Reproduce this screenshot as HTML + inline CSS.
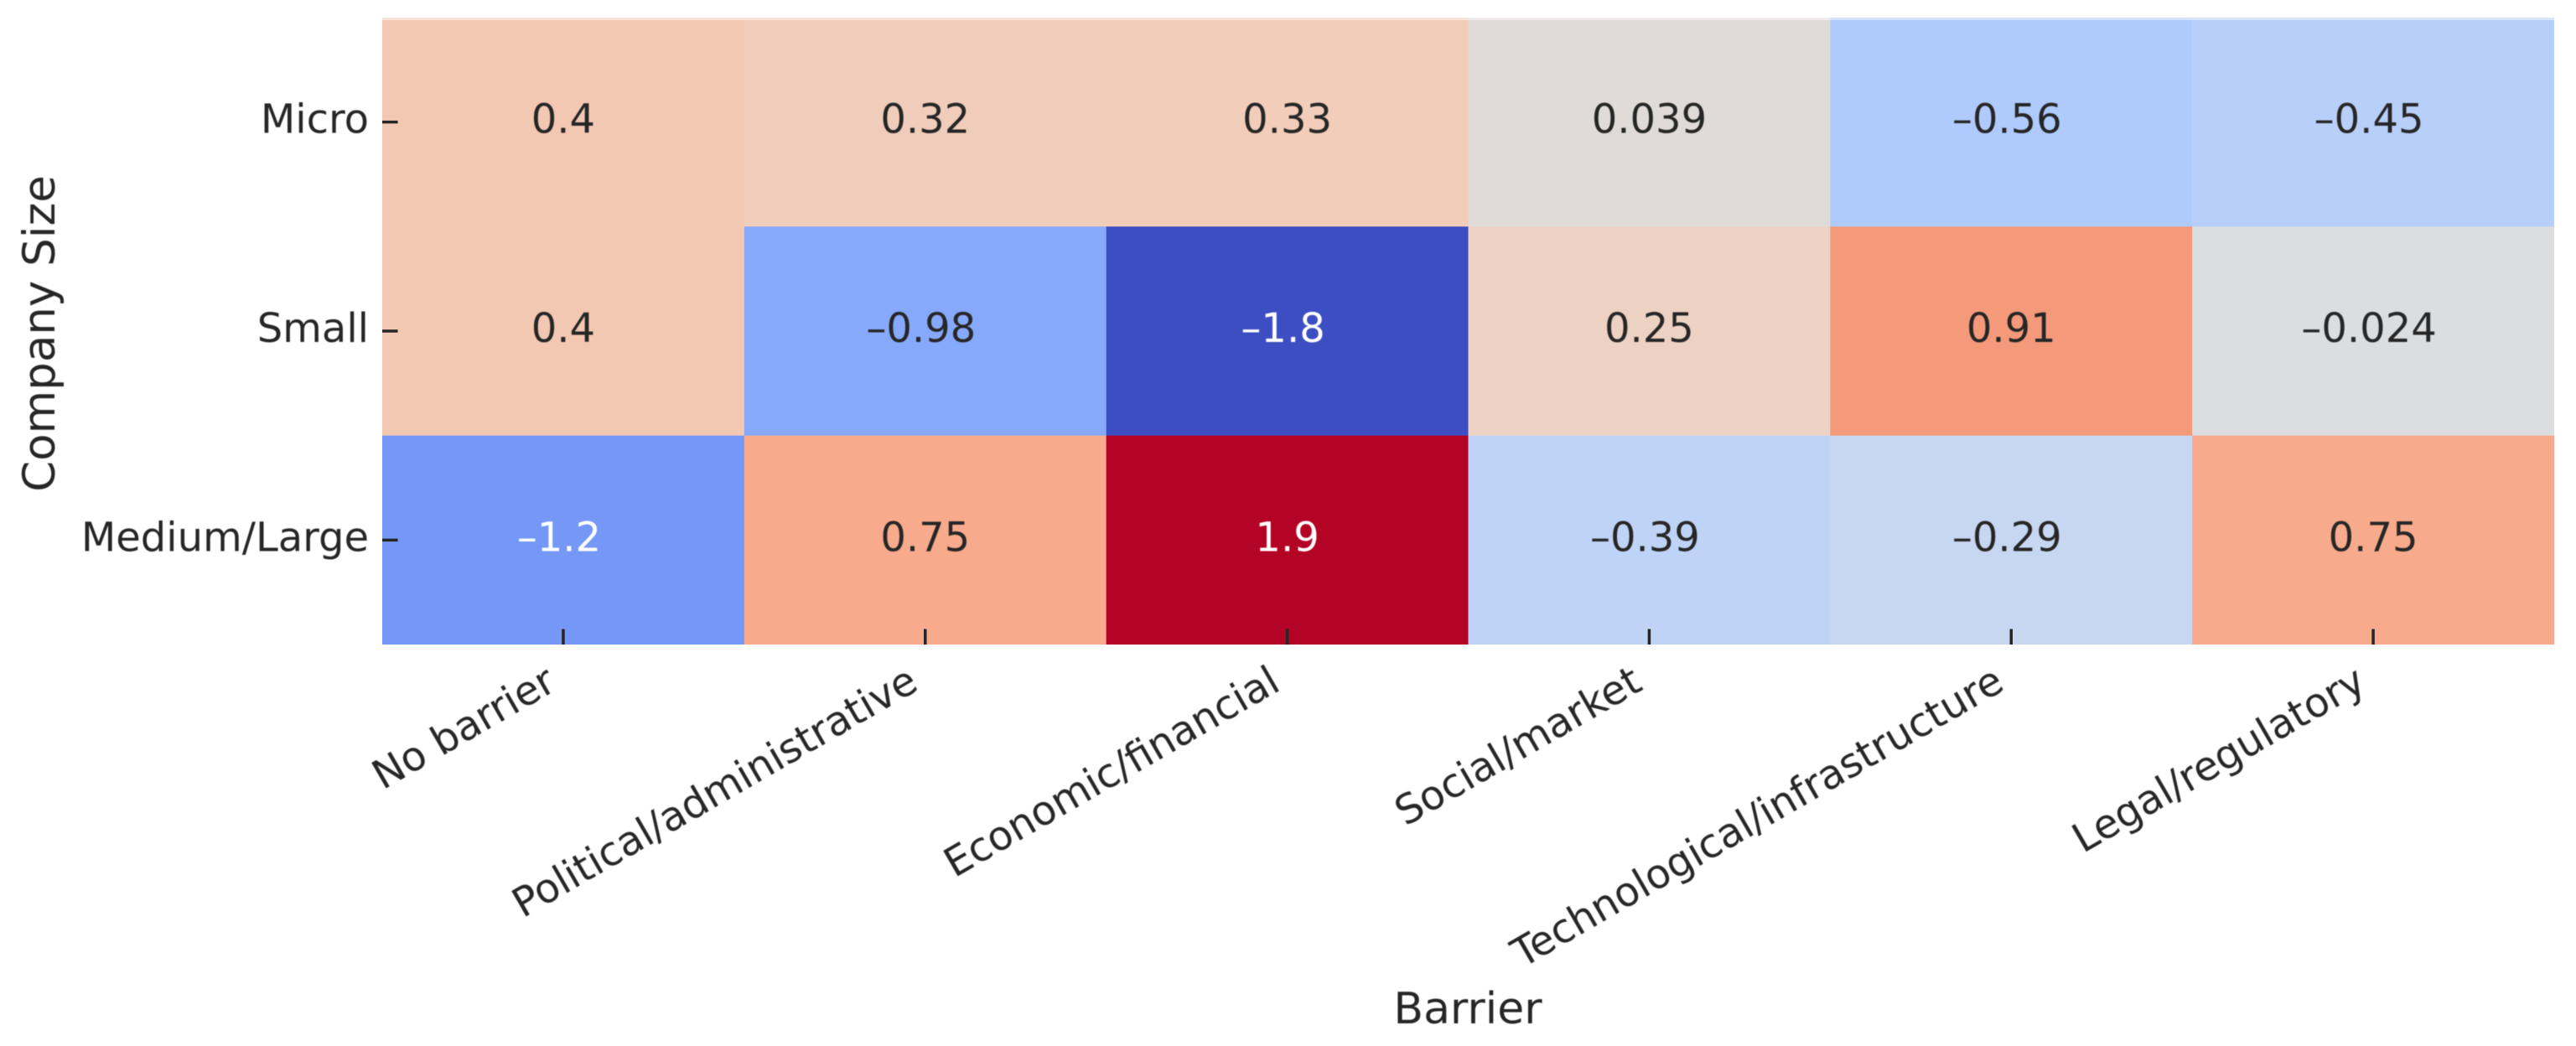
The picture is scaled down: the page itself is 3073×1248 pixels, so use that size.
<!DOCTYPE html>
<html lang="en">
<head>
<meta charset="utf-8">
<title>Barrier heatmap by company size</title>
<style>
  html, body { margin: 0; padding: 0; background: #fff; }
  svg { display: block; }
  text { font-family: "DejaVu Sans", "Liberation Sans", sans-serif; fill: #262626; filter: blur(0.6px); }
</style>
</head>
<body>
<svg id="chart" xmlns="http://www.w3.org/2000/svg" width="3073" height="1248" viewBox="0 0 3073 1248"></svg>
<script>
const barriers = ["No barrier", "Political/administrative", "Economic/financial", "Social/market", "Technological/infrastructure", "Legal/regulatory"];
const companySizes = ["Micro", "Small", "Medium/Large"];
const microValues = [0.4, 0.32, 0.33, 0.039, -0.56, -0.45];
const smallValues = [0.4, -0.98, -1.8, 0.25, 0.91, -0.024];
const mediumLargeValues = [-1.16, 0.75, 1.9, -0.39, -0.29, 0.75];
const colorDomain = [-1.82, 1.82];
const xAxisTitle = "Barrier";
const yAxisTitle = "Company Size";

const matrix = [microValues, smallValues, mediumLargeValues];
const plot = { left: 456, right: 3047, top: 21, bottom: 769 };
const NS = "http://www.w3.org/2000/svg";
const svg = document.getElementById("chart");

const coolwarm = [[59,76,192],[68,90,204],[77,104,215],[87,117,225],[98,130,234],[108,142,241],[119,154,247],[130,165,251],[141,176,254],[152,185,255],[163,194,255],[174,201,253],[184,208,249],[194,213,244],[204,217,238],[213,219,230],[221,221,221],[229,216,209],[236,211,197],[241,204,185],[245,196,173],[247,187,160],[247,177,148],[247,166,135],[244,154,123],[241,141,111],[236,127,99],[229,112,88],[222,96,77],[213,80,66],[203,62,56],[192,40,47],[180,4,38]];

function colorScale(v) {
  const t = Math.max(0, Math.min(1, (v - colorDomain[0]) / (colorDomain[1] - colorDomain[0]))) * (coolwarm.length - 1);
  const i = Math.min(Math.floor(t), coolwarm.length - 2);
  const f = t - i;
  return coolwarm[i].map(function (c, k) { return Math.round(c + (coolwarm[i + 1][k] - c) * f); });
}
function luminance(rgb) {
  const lin = rgb.map(function (c) { const s = c / 255; return s <= 0.03928 ? s / 12.92 : Math.pow((s + 0.055) / 1.055, 2.4); });
  return 0.2126 * lin[0] + 0.7152 * lin[1] + 0.0722 * lin[2];
}
function xBand(i) { return plot.left + (plot.right - plot.left) * i / barriers.length; }
function yBand(j) { return plot.top + (plot.bottom - plot.top) * j / companySizes.length; }
function xCenter(i) { return (xBand(i) + xBand(i + 1)) / 2; }
function yCenter(j) { return (yBand(j) + yBand(j + 1)) / 2; }
function formatValue(v) { return String(Number(v.toPrecision(2))).replace("-", "\u2013"); }
function make(tag, attrs, text) {
  const el = document.createElementNS(NS, tag);
  Object.keys(attrs).forEach(function (k) { el.setAttribute(k, attrs[k]); });
  if (text !== undefined) el.textContent = text;
  return el;
}

matrix.forEach(function (row, j) {
  row.forEach(function (v, i) {
    const rgb = colorScale(v);
    const cell = make("rect", { x: xBand(i), y: yBand(j), width: xBand(i + 1) - xBand(i) + (i < barriers.length - 1 ? 0.5 : 0), height: yBand(j + 1) - yBand(j) + (j < companySizes.length - 1 ? 0.5 : 0), fill: "rgb(" + rgb.join(",") + ")" });
    
    
    svg.appendChild(cell);
  });
});

const topEdge = make("rect", { x: plot.left, y: plot.top, width: plot.right - plot.left, height: 3, fill: "#ffffff", "fill-opacity": 0.45 });


svg.appendChild(topEdge);

matrix.forEach(function (row, j) {
  row.forEach(function (v, i) {
    const rgb = colorScale(v);
    const label = make("text", { x: xCenter(i) - (v < 0 ? 5 : 0), y: yCenter(j) + 13, "text-anchor": "middle", "font-size": 48 }, formatValue(v));
    label.style.fill = luminance(rgb) < 0.36 ? "#ffffff" : "#262626";
    
    
    svg.appendChild(label);
  });
});

companySizes.forEach(function (name, j) {
  const tick = make("line", { x1: plot.left, x2: plot.left + 18.5, y1: yCenter(j), y2: yCenter(j), stroke: "#262626", "stroke-width": 3.5 });
  
  
  svg.appendChild(tick);
  const label = make("text", { x: 440, y: yCenter(j) + 13, "text-anchor": "end", "font-size": 48 }, name);
  
  
  svg.appendChild(label);
});

barriers.forEach(function (name, i) {
  const cx = xCenter(i);
  const tick = make("line", { x1: cx, x2: cx, y1: plot.bottom - 18.5, y2: plot.bottom, stroke: "#262626", "stroke-width": 3.5 });
  
  
  svg.appendChild(tick);
  const ax = cx - 6, ay = 822;
  const label = make("text", { x: ax, y: ay, "text-anchor": "end", "font-size": 48, transform: "rotate(-30 " + ax + " " + ay + ")" }, name);
  
  
  svg.appendChild(label);
});

const xTitle = make("text", { x: 1751, y: 1221, "text-anchor": "middle", "font-size": 52 }, xAxisTitle);


svg.appendChild(xTitle);

const yTitle = make("text", { x: 65, y: 398, "text-anchor": "middle", "font-size": 53, transform: "rotate(-90 65 398)" }, yAxisTitle);


svg.appendChild(yTitle);
</script>
</body>
</html>
